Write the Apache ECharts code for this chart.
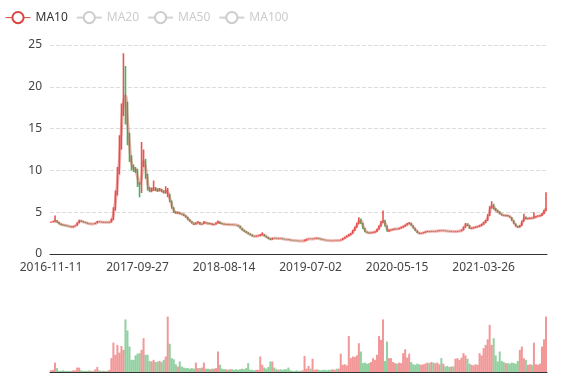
<!DOCTYPE html>
<html>
<head>
<meta charset="utf-8">
<script src="https://cdn.jsdelivr.net/npm/echarts@6/dist/echarts.min.js"></script>
<style>html,body{margin:0;padding:0;background:#fff}#main{width:577px;height:380px}</style>
</head>
<body>
<div id="main"></div>
<script>
// Tick label dates (category labels shown on the axis, one every 43 categories)
const labelDates = ['2016-11-11','2017-09-27','2018-08-14','2019-07-02','2020-05-15','2021-03-26'];
const labelStep = 43;

// [open, close, lowest, highest]
const ohlc = [
[3.78,3.80,3.72,3.88],[3.80,3.85,3.76,3.95],[3.85,4.00,3.82,4.60],[4.00,3.80,3.75,4.05],[3.80,3.60,3.56,3.84],
[3.60,3.50,3.45,3.64],[3.50,3.45,3.40,3.55],[3.45,3.40,3.36,3.50],[3.38,3.35,3.30,3.42],[3.35,3.30,3.26,3.38],
[3.30,3.20,3.16,3.33],[3.20,3.30,3.18,3.34],[3.30,3.40,3.28,3.45],[3.40,3.70,3.38,3.76],[3.70,4.00,3.68,4.10],
[4.00,3.90,3.85,4.05],[3.90,3.80,3.76,3.94],[3.80,3.75,3.70,3.84],[3.75,3.65,3.62,3.78],[3.65,3.60,3.56,3.68],
[3.58,3.60,3.55,3.66],[3.62,3.60,3.55,3.66],[3.60,3.70,3.58,3.75],[3.70,3.85,3.68,3.95],[3.88,3.85,3.80,3.92],
[3.85,3.80,3.76,3.88],[3.78,3.80,3.74,3.85],[3.82,3.80,3.75,3.86],[3.80,3.78,3.74,3.84],[3.78,3.80,3.74,3.86],
[3.80,4.10,3.78,4.25],[4.10,5.30,4.05,5.60],[5.30,7.20,5.20,7.60],[7.20,9.80,7.00,10.40],[9.80,12.80,9.50,14.20],
[12.80,17.20,12.50,18.00],[17.20,19.00,16.50,24.00],[19.00,17.80,15.50,22.50],[17.80,13.80,13.00,18.20],[13.80,11.40,11.00,14.50],
[11.40,10.40,10.00,11.80],[10.40,10.20,9.80,10.70],[10.20,10.00,9.70,10.40],[10.00,8.30,8.00,10.20],[8.30,7.40,6.80,8.60],
[7.40,11.00,7.30,13.40],[11.00,11.20,10.40,12.50],[11.20,9.40,9.00,11.40],[9.40,7.80,7.60,9.60],[7.80,7.60,7.40,8.00],
[7.60,7.70,7.40,7.95],[7.70,7.90,7.55,8.80],[7.90,7.60,7.50,8.00],[7.65,7.60,7.45,7.85],[7.60,7.70,7.50,7.90],
[7.70,7.50,7.40,7.80],[7.50,7.40,7.25,7.60],[7.30,7.60,7.20,8.10],[6.90,7.10,6.80,7.90],[7.10,6.30,6.20,7.20],
[6.30,5.50,5.40,6.40],[5.50,5.00,4.90,5.60],[5.00,4.90,4.80,5.10],[4.90,4.95,4.82,5.05],[4.95,4.80,4.75,5.00],
[4.78,4.75,4.70,4.85],[4.75,4.60,4.55,4.80],[4.60,4.40,4.35,4.65],[4.40,4.10,4.05,4.45],[4.10,3.90,3.85,4.15],
[3.90,3.70,3.65,3.95],[3.70,3.55,3.48,3.75],[3.55,3.70,3.52,3.80],[3.70,3.80,3.66,3.92],[3.80,3.55,3.50,3.84],
[3.55,3.60,3.50,3.66],[3.60,3.80,3.58,3.95],[3.80,3.70,3.65,3.84],[3.70,3.60,3.56,3.74],[3.60,3.65,3.56,3.70],
[3.65,3.50,3.46,3.68],[3.50,3.55,3.46,3.60],[3.55,3.70,3.52,3.76],[3.70,3.85,3.66,4.00],[3.85,3.65,3.60,3.88],
[3.65,3.60,3.55,3.70],[3.60,3.55,3.50,3.64],[3.53,3.56,3.50,3.60],[3.56,3.50,3.46,3.58],[3.50,3.52,3.46,3.56],
[3.52,3.50,3.46,3.55],[3.50,3.48,3.44,3.53],[3.48,3.45,3.40,3.50],[3.45,3.35,3.30,3.48],[3.35,3.10,3.05,3.38],
[3.10,2.85,2.80,3.12],[2.85,2.70,2.65,2.90],[2.70,2.55,2.50,2.74],[2.55,2.40,2.35,2.60],[2.40,2.30,2.25,2.44],
[2.30,2.15,2.10,2.33],[2.15,2.10,2.05,2.18],[2.10,2.15,2.06,2.20],[2.15,2.20,2.12,2.25],[2.20,2.25,2.15,2.40],
[2.25,2.35,2.20,2.60],[2.35,2.15,2.10,2.38],[2.15,2.00,1.95,2.18],[2.00,1.85,1.80,2.02],[1.85,1.72,1.66,1.88],
[1.72,1.90,1.70,1.95],[1.90,1.88,1.84,1.94],[1.88,1.85,1.82,1.91],[1.84,1.86,1.81,1.90],[1.86,1.85,1.81,1.89],
[1.85,1.80,1.77,1.87],[1.80,1.75,1.72,1.82],[1.75,1.72,1.69,1.77],[1.72,1.70,1.67,1.75],[1.70,1.65,1.62,1.72],
[1.65,1.62,1.60,1.67],[1.62,1.60,1.58,1.64],[1.60,1.58,1.55,1.62],[1.58,1.56,1.53,1.60],[1.56,1.55,1.52,1.58],
[1.55,1.56,1.53,1.59],[1.56,1.60,1.54,1.72],[1.60,1.78,1.58,1.82],[1.78,1.80,1.75,1.85],[1.81,1.79,1.76,1.84],
[1.79,1.80,1.75,1.86],[1.80,1.85,1.78,1.88],[1.85,1.90,1.83,1.94],[1.90,1.82,1.80,1.92],[1.82,1.75,1.73,1.84],
[1.75,1.70,1.68,1.77],[1.70,1.65,1.63,1.72],[1.65,1.62,1.60,1.67],[1.62,1.60,1.58,1.64],[1.60,1.58,1.56,1.62],
[1.57,1.59,1.55,1.61],[1.59,1.60,1.56,1.62],[1.61,1.60,1.57,1.63],[1.60,1.62,1.58,1.65],[1.62,1.70,1.60,1.74],
[1.70,1.85,1.68,1.90],[1.85,2.00,1.82,2.05],[2.00,2.15,1.96,2.20],[2.15,2.30,2.10,2.40],[2.30,2.45,2.25,2.52],
[2.45,2.80,2.42,2.90],[2.80,3.20,2.75,3.30],[3.20,3.60,3.15,3.75],[3.60,4.20,3.55,4.40],[4.20,3.70,3.60,4.25],
[3.70,3.10,3.00,3.75],[3.10,2.65,2.60,3.15],[2.65,2.55,2.50,2.70],[2.55,2.50,2.45,2.60],[2.50,2.55,2.46,2.60],
[2.55,2.60,2.50,2.66],[2.60,2.65,2.55,2.72],[2.65,2.95,2.62,3.02],[2.95,3.30,2.90,3.40],[3.30,3.80,3.25,3.95],
[3.80,4.00,3.70,5.20],[4.00,3.40,3.30,4.10],[3.40,2.70,2.65,3.45],[2.70,2.85,2.66,2.92],[2.85,2.90,2.80,2.96],
[2.90,2.95,2.85,3.02],[2.95,3.00,2.90,3.06],[3.02,2.98,2.94,3.06],[2.98,3.10,2.95,3.15],[3.10,3.20,3.05,3.26],
[3.20,3.30,3.15,3.38],[3.30,3.45,3.25,3.52],[3.45,3.60,3.40,3.70],[3.60,3.70,3.55,3.80],[3.70,3.40,3.35,3.74],
[3.40,3.10,3.05,3.44],[3.10,2.80,2.75,3.14],[2.80,2.55,2.50,2.84],[2.55,2.45,2.40,2.58],[2.45,2.50,2.42,2.55],
[2.50,2.55,2.46,2.60],[2.55,2.65,2.52,2.70],[2.65,2.70,2.62,2.75],[2.72,2.69,2.66,2.75],[2.69,2.72,2.66,2.76],
[2.72,2.70,2.67,2.75],[2.70,2.72,2.67,2.76],[2.72,2.75,2.69,2.80],[2.75,2.80,2.72,2.84],[2.80,2.78,2.74,2.83],
[2.78,2.80,2.74,2.84],[2.80,2.75,2.72,2.82],[2.75,2.72,2.69,2.77],[2.72,2.70,2.67,2.74],[2.69,2.71,2.66,2.74],
[2.71,2.68,2.65,2.73],[2.68,2.70,2.65,2.74],[2.70,2.72,2.67,2.76],[2.72,2.75,2.69,2.79],[2.75,2.85,2.72,2.92],
[2.85,3.20,2.82,3.30],[3.20,3.60,3.15,3.70],[3.60,3.45,3.35,3.65],[3.45,3.05,3.00,3.48],[3.05,3.10,3.00,3.16],
[3.10,3.15,3.05,3.22],[3.15,3.25,3.10,3.30],[3.25,3.30,3.20,3.36],[3.30,3.40,3.25,3.48],[3.40,3.55,3.35,3.62],
[3.55,3.75,3.50,3.85],[3.75,4.00,3.70,4.10],[4.00,4.60,3.95,4.75],[4.60,5.50,4.55,5.70],[5.50,5.90,5.40,6.30],
[5.90,5.40,5.30,6.00],[5.40,5.20,5.10,5.50],[5.20,5.00,4.95,5.30],[5.00,4.80,4.75,5.10],[4.80,4.65,4.60,4.85],
[4.65,4.60,4.55,4.70],[4.58,4.62,4.52,4.68],[4.62,4.55,4.50,4.66],[4.55,4.40,4.35,4.58],[4.40,4.00,3.95,4.44],
[4.00,3.60,3.55,4.05],[3.60,3.30,3.25,3.64],[3.30,3.20,3.15,3.35],[3.20,3.40,3.18,3.46],[3.40,3.90,3.36,4.00],
[3.90,4.40,3.85,4.80],[4.40,4.20,4.15,4.50],[4.20,4.25,4.15,4.32],[4.25,4.30,4.20,4.36],[4.32,4.28,4.22,4.38],
[4.28,4.40,4.24,5.00],[4.40,4.50,4.35,4.56],[4.50,4.55,4.45,4.62],[4.55,4.60,4.50,4.68],[4.60,4.80,4.55,4.90],
[4.80,5.20,4.75,5.30],[5.20,5.80,5.10,7.40]
];

const volumes = [
3,4,17,7,2,2,3,2,2,2, 2,3,3,8,8,3,2,2,2,3, 2,2,5,9,3,2,2,2,2,4,
25,53,31,49,35,47,40,95,75,46, 22,22,30,33,34,40,61,31,31,20, 19,22,18,19,20,18,22,28,100,51,
25,23,14,10,19,10,8,7,7,6, 7,6,17,7,7,8,17,6,6,5, 6,6,7,37,13,6,5,5,4,5,
5,4,5,4,5,6,5,7,16,4, 4,3,4,4,28,13,8,6,9,19, 19,8,5,4,5,4,5,5,8,3,
2,2,3,2,2,3,29,6,11,6, 24,4,5,4,3,4,4,3,4,4, 5,4,6,6,33,13,14,12,65,25,
28,27,30,52,37,16,17,15,16,18, 25,22,31,65,58,95,20,55,25,25, 18,16,15,17,16,34,41,26,33,18,
14,13,15,14,13,14,15,17,16,18, 17,16,17,14,25,15,10,11,9,10, 10,24,25,22,26,34,30,24,15,13,
12,14,13,34,30,43,49,59,85,49, 61,30,19,37,20,18,16,16,15,17, 16,15,20,40,46,25,22,13,14,13,
53,14,13,15,46,59,100
];

const ma10 = [
'-',3.83,3.93,3.90,3.70,3.55,3.48,3.43,3.38,3.33, 3.25,3.25,3.35,3.55,3.85,3.95,3.85,3.78,3.70,3.63,
3.60,3.60,3.65,3.78,3.85,3.83,3.80,3.80,3.79,3.79, 3.95,4.70,6.25,8.50,11.30,15.00,18.10,18.90,16.00,13.20,
10.90,10.30,10.10,9.20,8.40,9.20,11.10,10.30,8.60,7.70, 7.65,7.80,7.75,7.60,7.65,7.60,7.45,7.50,7.35,6.70,
5.90,5.25,4.95,4.93,4.88,4.78,4.68,4.50,4.25,4.00, 3.80,3.63,3.63,3.75,3.68,3.58,3.70,3.75,3.65,3.63,
3.58,3.53,3.63,3.78,3.75,3.63,3.58,3.56,3.53,3.51, 3.51,3.49,3.47,3.40,3.23,2.98,2.78,2.63,2.48,2.35,
2.23,2.13,2.13,2.18,2.23,2.30,2.25,2.08,1.93,1.79, 1.81,1.89,1.87,1.86,1.86,1.83,1.78,1.74,1.71,1.68,
1.64,1.61,1.59,1.57,1.56,1.56,1.58,1.69,1.79,1.80, 1.80,1.83,1.88,1.86,1.79,1.73,1.68,1.64,1.61,1.59,
1.59,1.60,1.60,1.61,1.66,1.78,1.93,2.08,2.23,2.38, 2.63,3.00,3.40,3.90,3.95,3.40,2.88,2.60,2.53,2.53,
2.58,2.63,2.80,3.13,3.55,3.90,3.70,3.05,2.78,2.88, 2.93,2.98,2.99,3.04,3.15,3.25,3.38,3.53,3.65,3.55,
3.25,2.95,2.68,2.50,2.48,2.53,2.60,2.68,2.70,2.71, 2.71,2.71,2.74,2.78,2.79,2.79,2.78,2.74,2.71,2.71,
2.70,2.69,2.71,2.74,2.80,3.03,3.40,3.53,3.25,3.08, 3.13,3.20,3.28,3.35,3.48,3.65,3.88,4.30,5.05,5.70,
5.65,5.30,5.10,4.90,4.73,4.63,4.61,4.59,4.48,4.20, 3.80,3.45,3.25,3.30,3.65,4.15,4.30,4.23,4.28,4.29,
4.34,4.45,4.53,4.58,4.70,5.00,5.50
];

const legendNames = ['MA10','MA20','MA50','MA100'];
const upColor = '#eb5454';
const downColor = '#47b262';

// category dates: one per ~5 trading days, anchored to the label dates
function buildDates(n) {
  const day = 86400000;
  const a = labelDates.map(d => Date.parse(d + 'T00:00:00Z'));
  const out = [];
  for (let i = 0; i < n; i++) {
    const s = Math.min(Math.floor(i / labelStep), a.length - 1);
    const j = i - s * labelStep;
    const span = s < a.length - 1 ? (a[s + 1] - a[s]) : (a[s] - a[s - 1]);
    const t = a[s] + Math.round(j * span / labelStep / day) * day;
    out.push(new Date(t).toISOString().slice(0, 10));
  }
  return out;
}
const dates = buildDates(ohlc.length);

const volumeData = volumes.map((v, i) => ({
  value: v,
  itemStyle: { color: ohlc[i][1] >= ohlc[i][0] ? upColor : downColor }
}));

const chart = echarts.init(document.getElementById('main'));
chart.setOption({
  animation: false,
  textStyle: { fontFamily: 'Noto Sans' },
  legend: {
    left: 0, top: 6,
    data: legendNames,
    selected: { MA10: true, MA20: false, MA50: false, MA100: false },
    inactiveColor: '#ccc',
    itemGap: 8,
    lineStyle: { width: 1, opacity: 1 },
    itemStyle: { borderWidth: 1 },
    textStyle: { color: '#333', fontSize: 12 }
  },
  grid: [
    { left: 50, right: 30, top: 45, height: 209 },
    { left: 50, right: 30, top: 300, height: 72 }
  ],
  xAxis: [
    {
      type: 'category', data: dates, boundaryGap: true,
      axisLine: { lineStyle: { color: '#333' } },
      axisTick: { lineStyle: { color: '#333' } },
      axisLabel: { interval: labelStep - 1, color: '#444', fontSize: 12 },
      splitLine: { show: false }
    },
    {
      type: 'category', gridIndex: 1, data: dates, boundaryGap: true,
      axisLine: { lineStyle: { color: '#333' } },
      axisTick: { show: false },
      axisLabel: { show: false },
      splitLine: { show: false }
    }
  ],
  yAxis: [
    {
      type: 'value', min: 0, max: 25, interval: 5,
      axisLine: { show: false }, axisTick: { show: false },
      axisLabel: { color: '#444', fontSize: 12 },
      splitLine: { lineStyle: { type: 'dashed', color: '#ddd' } }
    },
    {
      type: 'value', gridIndex: 1, min: 0, max: 130,
      axisLine: { show: false }, axisTick: { show: false },
      axisLabel: { show: false }, splitLine: { show: false }
    }
  ],
  series: [
    {
      name: 'K', type: 'candlestick', data: ohlc,
      large: true, largeThreshold: 100,
      itemStyle: { color: upColor, color0: downColor, borderColor: upColor, borderColor0: downColor, borderWidth: 1.6 }
    },
    {
      name: 'MA10', type: 'line', data: ma10, smooth: true, showSymbol: false,
      color: '#d9463f',
      lineStyle: { width: 3, opacity: 0.4 }
    },
    { name: 'MA20', type: 'line', data: [], showSymbol: false, color: '#5470c6' },
    { name: 'MA50', type: 'line', data: [], showSymbol: false, color: '#91cc75' },
    { name: 'MA100', type: 'line', data: [], showSymbol: false, color: '#fac858' },
    {
      name: 'Volume', type: 'bar', xAxisIndex: 1, yAxisIndex: 1, data: volumeData,
      itemStyle: { opacity: 0.6 }, barCategoryGap: '0%'
    }
  ]
});
</script>
</body>
</html>
